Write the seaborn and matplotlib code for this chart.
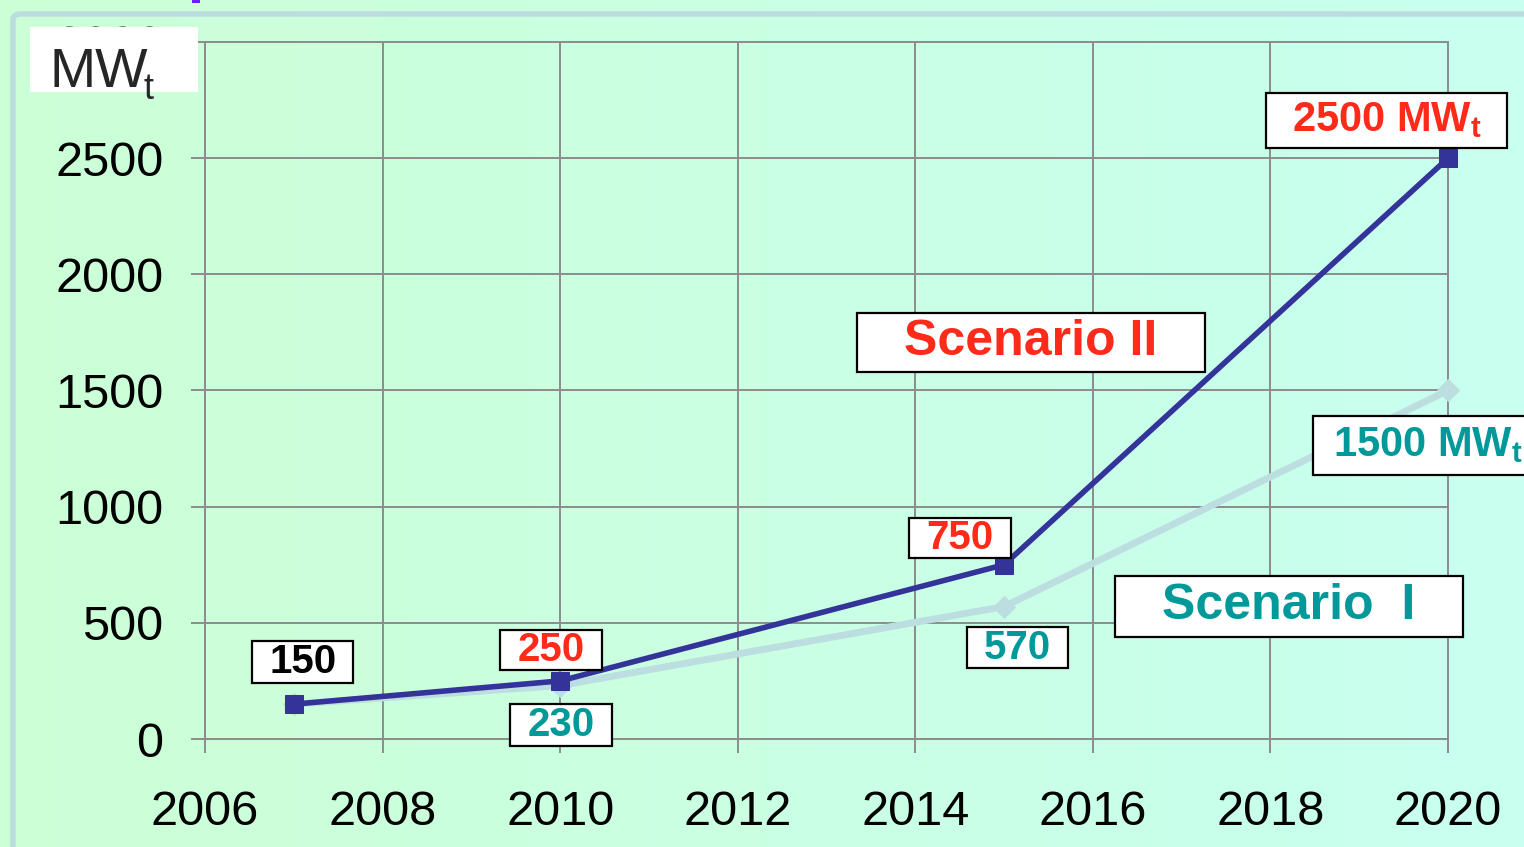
import numpy as np
import pandas as pd
import matplotlib
matplotlib.use("Agg")
import matplotlib.pyplot as plt
from matplotlib.patches import Rectangle, FancyBboxPatch
import seaborn as sns

# ---- data ----
years = [2007, 2010, 2015, 2020]
scenario_2 = [150, 250, 750, 2500]
scenario_1 = [150, 230, 570, 1500]
x_ticks = [2006, 2008, 2010, 2012, 2014, 2016, 2018, 2020]
y_ticks = [0, 500, 1000, 1500, 2000, 2500, 3000]

NAVY = "#333399"
LIGHT = "#BCDEE0"
RED = "#FF2A1A"
TEAL = "#009999"
GRID = "#8C8C8C"

sns.set_style("white")
plt.rcParams["font.family"] = ["Liberation Sans", "DejaVu Sans"]
plt.rcParams["mathtext.fontset"] = "custom"
plt.rcParams["mathtext.rm"] = "Liberation Sans"
plt.rcParams["mathtext.bf"] = "Liberation Sans:bold"

fig = plt.figure(figsize=(15.24, 8.47), dpi=100)

# background gradient
bg = fig.add_axes([0, 0, 1, 1], zorder=-10)
c_left = np.array([204, 255, 214]) / 255
c_right = np.array([200, 255, 240]) / 255
t = np.linspace(0, 1, 256)
grad = (c_left[None, :] * (1 - t[:, None]) + c_right[None, :] * t[:, None])[None, :, :]
bg.imshow(grad, aspect="auto", extent=[0, 1, 0, 1])
bg.add_patch(FancyBboxPatch((0.0085, -0.05), 1.2, 1.05 - 0.0165, boxstyle="round,pad=0,rounding_size=0.006",
                            transform=bg.transAxes, fill=False, edgecolor="#BCDDE0", linewidth=4))
bg.add_patch(Rectangle((192 / 1524, 1 - 3 / 847), 8 / 1524, 3 / 847, transform=bg.transAxes,
                       facecolor="#6A1BFF", edgecolor="none"))
bg.set_xlim(0, 1); bg.set_ylim(0, 1)
bg.axis("off")

ax = fig.add_axes([205 / 1524, 1 - 739 / 847, (1448 - 205) / 1524, (739 - 42) / 847])
ax.set_facecolor("none")

df1 = pd.DataFrame({"year": years, "MW": scenario_1})
df2 = pd.DataFrame({"year": years, "MW": scenario_2})
sns.lineplot(data=df1, x="year", y="MW", ax=ax, color=LIGHT, linewidth=5,
             marker="D", markersize=11, markeredgecolor=LIGHT, zorder=3, clip_on=False)
sns.lineplot(data=df2, x="year", y="MW", ax=ax, color=NAVY, linewidth=4,
             marker="s", markersize=13.5, markeredgecolor=NAVY, zorder=4, clip_on=False)

ax.set_xlim(2006, 2020)
ax.set_ylim(0, 3000)
ax.set_xticks(x_ticks)
ax.set_yticks(y_ticks)
ax.set_xlabel("")
ax.set_ylabel("")
ax.grid(True, color=GRID, linewidth=1.4)
for s in ax.spines.values():
    s.set_color(GRID)
    s.set_linewidth(1.4)
ax.tick_params(axis="both", direction="out", length=10, width=1.4, color=GRID,
               labelsize=35, labelcolor="black", bottom=True, left=True)
ax.tick_params(axis="x", pad=27)
ax.tick_params(axis="y", pad=20)


def label(xc, yc, w, h, text, color, size):
    ax.add_patch(Rectangle((xc - w / 2, yc - h / 2), w, h, facecolor="white",
                           edgecolor="black", linewidth=1.6, zorder=6, clip_on=False))
    ax.text(xc, yc, text, color=color, fontsize=size, fontweight="bold",
            ha="center", va="center", zorder=7, clip_on=False)


label(2007.10, 331, 1.14, 181, "150", "black", 29)
label(2009.90, 383, 1.15, 176, "250", RED, 29)
label(2010.01, 60, 1.14, 181, "230", TEAL, 29)
label(2014.50, 865, 1.15, 176, "750", RED, 29)
label(2015.15, 392, 1.14, 176, "570", TEAL, 29)
label(2019.31, 2664, 2.71, 237, r"2500 MW$_\mathbf{t}$", RED, 30)
label(2019.77, 1263, 2.59, 254, r"1500 MW$_\mathbf{t}$", TEAL, 30)
label(2015.30, 1708, 3.92, 254, "Scenario II", RED, 36)
label(2018.21, 572, 3.92, 262, "Scenario  I", TEAL, 36)

# unit box
fig.patches.append(Rectangle((30 / 1524, 1 - 92 / 847), 168 / 1524, 65 / 847,
                             transform=fig.transFigure, facecolor="white",
                             edgecolor="none", zorder=5))
fig.text(49 / 1524, 1 - 87 / 847, "MW", fontsize=40,
         ha="left", va="baseline", zorder=6)
fig.text(144 / 1524, 1 - 99 / 847, "t", fontsize=26,
         ha="left", va="baseline", zorder=6)

fig.savefig("out.png", dpi=100)
